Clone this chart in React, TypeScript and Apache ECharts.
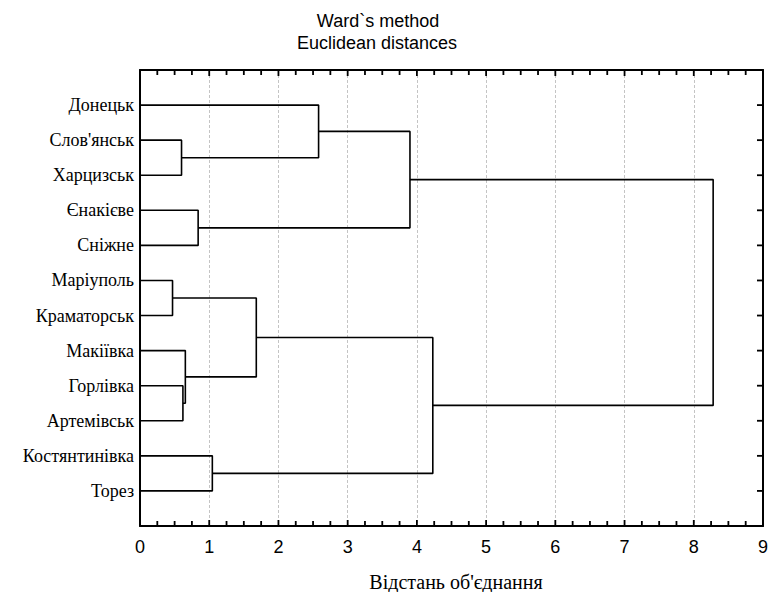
import React, { useEffect, useRef } from "react";
import * as echarts from "echarts";

const titleLines = ["Ward`s method", "Euclidean distances"];
const xAxisTitle = "Відстань об'єднання";
const leafLabels = [
  "Донецьк",
  "Слов'янськ",
  "Харцизськ",
  "Єнакієве",
  "Сніжне",
  "Маріуполь",
  "Краматорськ",
  "Макіївка",
  "Горлівка",
  "Артемівськ",
  "Костянтинівка",
  "Торез",
];
// merges: cluster A, cluster B, linkage distance; leaves are 0..11, new clusters 12, 13, ...
const mergeLeft = [1, 5, 8, 7, 3, 10, 13, 0, 19, 18, 20];
const mergeRight = [2, 6, 9, 14, 4, 11, 15, 12, 16, 17, 21];
const mergeDistance = [0.6, 0.47, 0.62, 0.655, 0.84, 1.045, 1.68, 2.58, 3.9, 4.23, 8.28];
const xTicks = [0, 1, 2, 3, 4, 5, 6, 7, 8, 9];
const minorPerMajor = 4;

export default function App() {
  const ref = useRef<HTMLDivElement>(null);
  useEffect(() => {
    document.body.style.margin = "0";
    const chart = echarts.init(ref.current!, undefined, { renderer: "svg" });
    const n = leafLabels.length;
    const yMin = 0;
    const yMax = n + 1;
    const xMin = xTicks[0];
    const xMax = xTicks[xTicks.length - 1];
    const posY: number[] = [];
    const posX: number[] = [];
    for (let i = 0; i < n; i++) {
      posY.push(i + 1);
      posX.push(0);
    }
    const series: any[] = [];
    mergeDistance.forEach((h, k) => {
      const a = mergeLeft[k];
      const b = mergeRight[k];
      series.push({
        type: "line",
        data: [
          [posX[a], posY[a]],
          [h, posY[a]],
          [h, posY[b]],
          [posX[b], posY[b]],
        ],
        symbol: "none",
        lineStyle: { color: "#000", width: 1.6 },
        silent: true,
        z: 5,
      });
      posY.push((posY[a] + posY[b]) / 2);
      posX.push(h);
    });

    // inward frame ticks, placed through the axes' scales
    const xTickVals: number[] = [];
    const xTickMajor: boolean[] = [];
    for (let i = 0; i < xTicks.length; i++) {
      xTickVals.push(xTicks[i]);
      xTickMajor.push(true);
      if (i < xTicks.length - 1) {
        const step = (xTicks[i + 1] - xTicks[i]) / minorPerMajor;
        for (let m = 1; m < minorPerMajor; m++) {
          xTickVals.push(xTicks[i] + step * m);
          xTickMajor.push(false);
        }
      }
    }
    const mkTicks = (data: number[][], dir: "up" | "down" | "left", major: boolean[] | null) => ({
      type: "custom",
      clip: false,
      silent: true,
      z: 10,
      data,
      renderItem: (params: any, api: any) => {
        const p = api.coord([api.value(0), api.value(1)]);
        const len = major ? (major[params.dataIndex] ? 6 : 5) : 6;
        const dx = dir === "left" ? -len : 0;
        const dy = dir === "up" ? -len : dir === "down" ? len : 0;
        return {
          type: "line",
          shape: { x1: p[0], y1: p[1], x2: p[0] + dx, y2: p[1] + dy },
          style: { stroke: "#000", lineWidth: 1.8 },
        };
      },
    });
    const rowTicks: number[][] = [];
    for (let i = 1; i <= n; i++) rowTicks.push([xMax, i]);
    series.push(mkTicks(xTickVals.map((v) => [v, yMax]), "up", xTickMajor));
    series.push(mkTicks(xTickVals.map((v) => [v, yMin]), "down", xTickMajor));
    series.push(mkTicks(rowTicks, "left", null));

    const serif = "'Liberation Serif', 'Times New Roman', serif";
    const sans = "'Liberation Sans', Arial, sans-serif";
    const frameLine = () => ({ show: true, onZero: false, lineStyle: { color: "#000", width: 2 } });
    chart.setOption({
      animation: false,
      backgroundColor: "#fff",
      grid: { left: 140, right: 3, top: 70, bottom: 66, containLabel: false },
      graphic: [
        { type: "text", x: 378, y: 21, style: { text: titleLines[0], font: `18px ${sans}`, fill: "#000", align: "center", verticalAlign: "middle" } },
        { type: "text", x: 377, y: 43, style: { text: titleLines[1], font: `18px ${sans}`, fill: "#000", align: "center", verticalAlign: "middle" } },
        { type: "text", x: 456, y: 582, style: { text: xAxisTitle, font: `20px ${serif}`, fill: "#000", align: "center", verticalAlign: "middle" } },
      ],
      xAxis: [
        {
          type: "value",
          min: xMin,
          max: xMax,
          interval: 1,
          position: "bottom",
          axisLine: frameLine(),
          axisTick: { show: false },
          splitLine: { show: true, lineStyle: { color: "#c4c4c4", type: [3, 2], width: 1 } },
          axisLabel: { color: "#000", fontFamily: sans, fontSize: 18, margin: 12 },
        },
        {
          type: "value",
          min: xMin,
          max: xMax,
          interval: 1,
          position: "top",
          axisLine: frameLine(),
          axisTick: { show: false },
          splitLine: { show: false },
          axisLabel: { show: false },
        },
      ],
      yAxis: [
        {
          type: "value",
          min: yMin,
          max: yMax,
          interval: 1,
          inverse: true,
          position: "left",
          axisLine: frameLine(),
          axisTick: { show: false },
          splitLine: { show: false },
          axisLabel: {
            color: "#000",
            fontFamily: serif,
            fontSize: 18,
            margin: 6,
            formatter: (v: number) => (v >= 1 && v <= n ? leafLabels[v - 1] : ""),
          },
        },
        {
          type: "value",
          min: yMin,
          max: yMax,
          interval: 1,
          inverse: true,
          position: "right",
          axisLine: frameLine(),
          axisTick: { show: false },
          splitLine: { show: false },
          axisLabel: { show: false },
        },
      ],
      series,
    });
    return () => chart.dispose();
  }, []);
  return <div ref={ref} style={{ width: 771, height: 592 }} />;
}
